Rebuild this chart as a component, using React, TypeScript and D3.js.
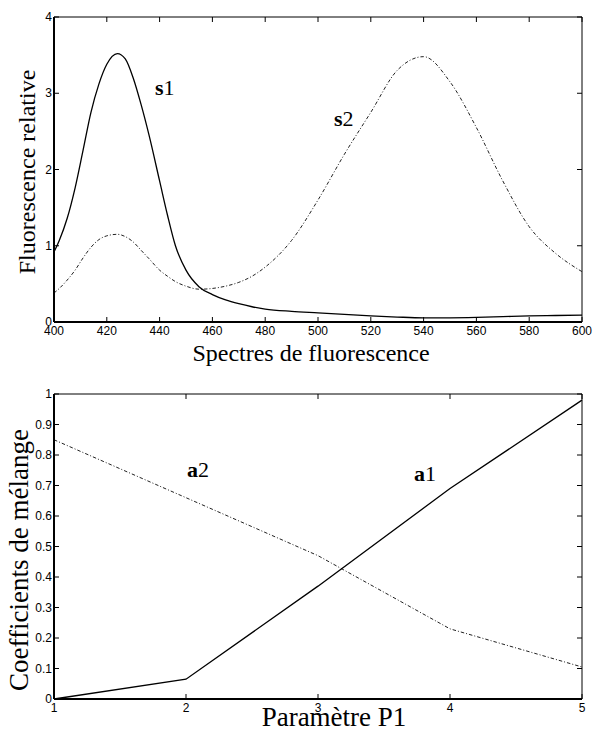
import React from "react";
import * as d3 from "d3";

// Top chart: fluorescence spectra
const wavelengths = [400, 402, 405, 408, 411, 414, 417, 420, 424, 427, 430, 433, 436, 440, 443, 446, 450, 455, 460, 465, 470, 475, 480, 490, 500, 510, 520, 530, 540, 550, 560, 570, 580, 590, 600];
const s1Values = [0.92, 1.07, 1.36, 1.76, 2.25, 2.75, 3.12, 3.38, 3.52, 3.45, 3.2, 2.85, 2.45, 1.85, 1.4, 1.0, 0.68, 0.46, 0.36, 0.29, 0.24, 0.2, 0.17, 0.14, 0.12, 0.1, 0.08, 0.065, 0.055, 0.055, 0.06, 0.07, 0.08, 0.085, 0.09];
const s2Values = [0.38, 0.44, 0.55, 0.68, 0.84, 0.98, 1.08, 1.13, 1.15, 1.12, 1.05, 0.94, 0.83, 0.68, 0.6, 0.53, 0.47, 0.43, 0.44, 0.47, 0.52, 0.6, 0.72, 1.07, 1.6, 2.2, 2.75, 3.3, 3.48, 3.15, 2.55, 1.85, 1.25, 0.9, 0.66];
const topXTicks = [400, 420, 440, 460, 480, 500, 520, 540, 560, 580, 600];
const topYTicks = [0, 1, 2, 3, 4];

// Bottom chart: mixing coefficients
const params = [1, 2, 3, 4, 5];
const a1Values = [0, 0.065, 0.37, 0.69, 0.98];
const a2Values = [0.85, 0.66, 0.47, 0.23, 0.105];
const bottomYTicks = [0, 0.1, 0.2, 0.3, 0.4, 0.5, 0.6, 0.7, 0.8, 0.9, 1];

const serif = "'Liberation Serif', 'DejaVu Serif', serif";
const sans = "'Liberation Sans', Arial, sans-serif";
const dash = "3.5,2,1,2";

type PanelProps = {
  top: number;
  bottom: number;
  xDomain: [number, number];
  yDomain: [number, number];
  xTicks: number[];
  yTicks: number[];
  xs: number[];
  solid: number[];
  dashed: number[];
  curve: any;
  xTitle: string;
  xTitleX: number;
  xTitleOffset: number;
  yTitle: string;
  yTitleX: number;
  yTitleCenter: number;
  titleSize: number;
  yFmt: (v: number) => string;
  labels: { t: string; n: string; x: number; y: number }[];
};

function Panel(p: PanelProps) {
  const left = 54;
  const right = 582;
  const x = d3.scaleLinear().domain(p.xDomain).range([left, right]);
  const y = d3.scaleLinear().domain(p.yDomain).range([p.bottom, p.top]);
  const line = (vals: number[]) =>
    d3
      .line<number>()
      .x((_, i) => x(p.xs[i]))
      .y((d) => y(d))
      .curve(p.curve)(vals) || "";
  const tl = 5;
  return (
    <g>
      <path d={line(p.dashed)} fill="none" stroke="#222" strokeWidth={1} strokeDasharray={dash} />
      <path d={line(p.solid)} fill="none" stroke="#000" strokeWidth={1.3} />
      {/* frame */}
      <line x1={left} x2={right} y1={p.top} y2={p.top} stroke="#000" strokeWidth={1} />
      <line x1={right} x2={right} y1={p.top} y2={p.bottom} stroke="#000" strokeWidth={1} />
      <line x1={left} x2={left} y1={p.top} y2={p.bottom} stroke="#000" strokeWidth={2} />
      <line x1={left} x2={right} y1={p.bottom} y2={p.bottom} stroke="#000" strokeWidth={2} />
      {p.xTicks.map((t) => (
        <g key={"x" + t}>
          <line x1={x(t)} x2={x(t)} y1={p.bottom} y2={p.bottom - tl} stroke="#000" />
          <line x1={x(t)} x2={x(t)} y1={p.top} y2={p.top + tl} stroke="#000" />
          <text x={x(t)} y={p.bottom + 13} fontFamily={sans} fontSize={12} textAnchor="middle">
            {t}
          </text>
        </g>
      ))}
      {p.yTicks.map((t) => (
        <g key={"y" + t}>
          <line x1={left} x2={left + tl} y1={y(t)} y2={y(t)} stroke="#000" />
          <line x1={right} x2={right - tl} y1={y(t)} y2={y(t)} stroke="#000" />
          <text x={left - 2} y={y(t) + 4} fontFamily={sans} fontSize={12} textAnchor="end">
            {p.yFmt(t)}
          </text>
        </g>
      ))}
      <text x={p.xTitleX} y={p.bottom + p.xTitleOffset} fontFamily={serif} fontSize={p.titleSize} textAnchor="middle">
        {p.xTitle}
      </text>
      <text
        transform={`translate(${p.yTitleX},${p.yTitleCenter}) rotate(-90)`}
        fontFamily={serif}
        fontSize={p.titleSize}
        textAnchor="middle"
      >
        {p.yTitle}
      </text>
      {p.labels.map((l) => (
        <text key={l.t + l.n} x={l.x} y={l.y} fontFamily={serif} fontSize={22}>
          <tspan fontWeight="bold">{l.t}</tspan>
          <tspan>{l.n}</tspan>
        </text>
      ))}
    </g>
  );
}

export default function App() {
  return (
    <div style={{ position: "absolute", left: 0, top: 0 }}>
      <svg width={593} height={734} style={{ display: "block", background: "#fff" }}>
        <Panel
          top={17}
          bottom={322}
          xDomain={[400, 600]}
          yDomain={[0, 4]}
          xTicks={topXTicks}
          yTicks={topYTicks}
          xs={wavelengths}
          solid={s1Values}
          dashed={s2Values}
          curve={d3.curveMonotoneX}
          xTitle="Spectres de fluorescence"
          xTitleX={311}
          xTitleOffset={39}
          yTitle="Fluorescence relative"
          yTitleX={35}
          yTitleCenter={172}
          titleSize={24}
          yFmt={(v) => String(v)}
          labels={[
            { t: "s", n: "1", x: 155, y: 95 },
            { t: "s", n: "2", x: 334, y: 126 },
          ]}
        />
        <Panel
          top={394}
          bottom={699}
          xDomain={[1, 5]}
          yDomain={[0, 1]}
          xTicks={params}
          yTicks={bottomYTicks}
          xs={params}
          solid={a1Values}
          dashed={a2Values}
          curve={d3.curveLinear}
          xTitle="Paramètre P1"
          xTitleX={334}
          xTitleOffset={27}
          yTitle="Coefficients de mélange"
          yTitleX={28}
          yTitleCenter={560}
          titleSize={27}
          yFmt={(v) => d3.format("~g")(v)}
          labels={[
            { t: "a", n: "1", x: 414, y: 481 },
            { t: "a", n: "2", x: 187, y: 477 },
          ]}
        />
      </svg>
    </div>
  );
}
